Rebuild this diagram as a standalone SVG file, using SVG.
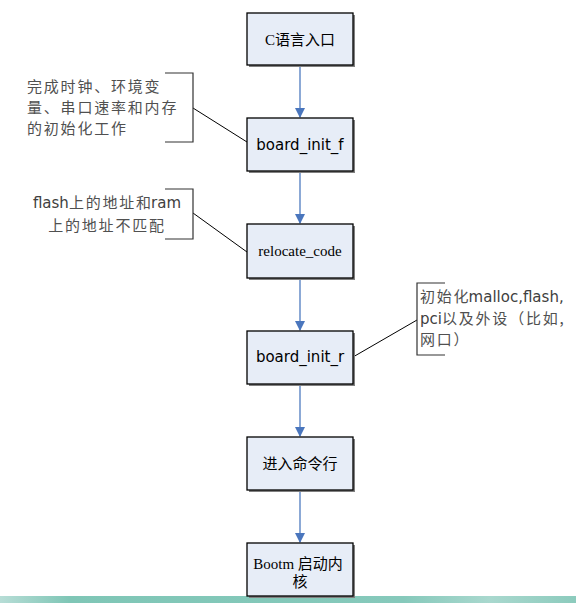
<svg xmlns="http://www.w3.org/2000/svg" width="576" height="603" viewBox="0 0 576 603">
<defs>
<style>
.box{fill:#e7edf7;stroke:#000;stroke-width:1.3}
.shadow{fill:#808080}
.conn{stroke:#5b84c4;stroke-width:1.4;fill:none}
.lead{stroke:#000;stroke-width:1;fill:none}
.br{stroke:#333;stroke-width:1.2;fill:none}
.serif{font-family:"Liberation Serif","Noto Sans CJK SC",serif;font-size:15px;fill:#000}
.sans{font-family:"DejaVu Sans","Noto Sans CJK SC",sans-serif;font-size:15px;fill:#000}
.note{font-family:"DejaVu Sans","Noto Sans CJK SC",sans-serif;font-size:15px;fill:#404040}
.notecn{font-family:"Noto Sans CJK SC",sans-serif;font-size:15px;fill:#505050;letter-spacing:1.8px}
.lat{letter-spacing:0}
</style>
<marker id="arr" markerWidth="10" markerHeight="10" refX="9" refY="5" orient="auto" markerUnits="userSpaceOnUse">
<path d="M0,0 L10,5 L0,10 Z" fill="#4a76bd"/>
</marker>
<linearGradient id="band" x1="0" y1="0" x2="1" y2="0">
<stop offset="0" stop-color="#b7ddd6"/>
<stop offset="0.12" stop-color="#7fc6b6"/>
<stop offset="0.7" stop-color="#86c9bb"/>
<stop offset="0.85" stop-color="#a9d8ce"/>
<stop offset="1" stop-color="#8ccbbd"/>
</linearGradient>
</defs>
<rect x="0" y="0" width="576" height="603" fill="#fff"/>
<rect x="0" y="596" width="576" height="7" fill="url(#band)"/>

<g id="connectors">
<line class="conn" x1="300" y1="66" x2="300" y2="117" marker-end="url(#arr)"/>
<line class="conn" x1="300" y1="172" x2="300" y2="223" marker-end="url(#arr)"/>
<line class="conn" x1="300" y1="279" x2="300" y2="330" marker-end="url(#arr)"/>
<line class="conn" x1="300" y1="385" x2="300" y2="436" marker-end="url(#arr)"/>
<line class="conn" x1="300" y1="491" x2="300" y2="542" marker-end="url(#arr)"/>
<line class="lead" x1="193" y1="108" x2="247" y2="142"/>
<line class="lead" x1="193" y1="213" x2="247" y2="252"/>
<line class="lead" x1="353" y1="357" x2="417" y2="320"/>
</g>

<g id="n1">
<rect class="shadow" x="249" y="15" width="106" height="52"/>
<rect class="box" x="247" y="13" width="106" height="52"/>
<text class="serif" x="300" y="45" text-anchor="middle">C语言入口</text>
</g>
<g id="n2">
<rect class="shadow" x="249" y="120" width="106" height="53"/>
<rect class="box" x="247" y="118" width="106" height="53"/>
<text class="sans" x="300" y="150" text-anchor="middle">board_init_f</text>
</g>
<g id="n3">
<rect class="shadow" x="249" y="226" width="106" height="54"/>
<rect class="box" x="247" y="224" width="106" height="54"/>
<text class="serif" x="300" y="256" text-anchor="middle">relocate_code</text>
</g>
<g id="n4">
<rect class="shadow" x="249" y="333" width="106" height="53"/>
<rect class="box" x="247" y="331" width="106" height="53"/>
<text class="sans" x="300" y="362" text-anchor="middle">board_init_r</text>
</g>
<g id="n5">
<rect class="shadow" x="249" y="439" width="106" height="53"/>
<rect class="box" x="247" y="437" width="106" height="53"/>
<text class="serif" x="300" y="469" text-anchor="middle">进入命令行</text>
</g>
<g id="n6">
<rect class="shadow" x="249" y="545" width="106" height="53"/>
<rect class="box" x="247" y="543" width="106" height="53"/>
<text class="serif" x="298" y="569" text-anchor="middle">Bootm 启动内</text>
<text class="serif" x="300" y="587" text-anchor="middle">核</text>
</g>

<g id="note1">
<path class="br" d="M165,73 H193 V142 H165"/>
<text class="notecn" x="27" y="92">完成时钟、环境变</text>
<text class="notecn" x="27" y="113">量、串口速率和内存</text>
<text class="notecn" x="27" y="134">的初始化工作</text>
</g>
<g id="note2">
<path class="br" d="M165,189 H193 V239 H165"/>
<text class="note" x="107" y="208" text-anchor="middle">flash<tspan class="notecn">上的地址和</tspan><tspan dx="-1.8">ram</tspan></text>
<text class="notecn" x="107" y="231" text-anchor="middle">上的地址不匹配</text>
</g>
<g id="note3">
<path class="br" d="M445,283 H417 V355 H445"/>
<text class="note" x="420" y="302"><tspan class="notecn">初始化</tspan><tspan dx="-1.8">malloc,flash,</tspan></text>
<text class="note" x="420" y="324">pci<tspan class="notecn">以及外设（比如,</tspan></text>
<text class="notecn" x="420" y="345">网口）</text>
</g>
</svg>
